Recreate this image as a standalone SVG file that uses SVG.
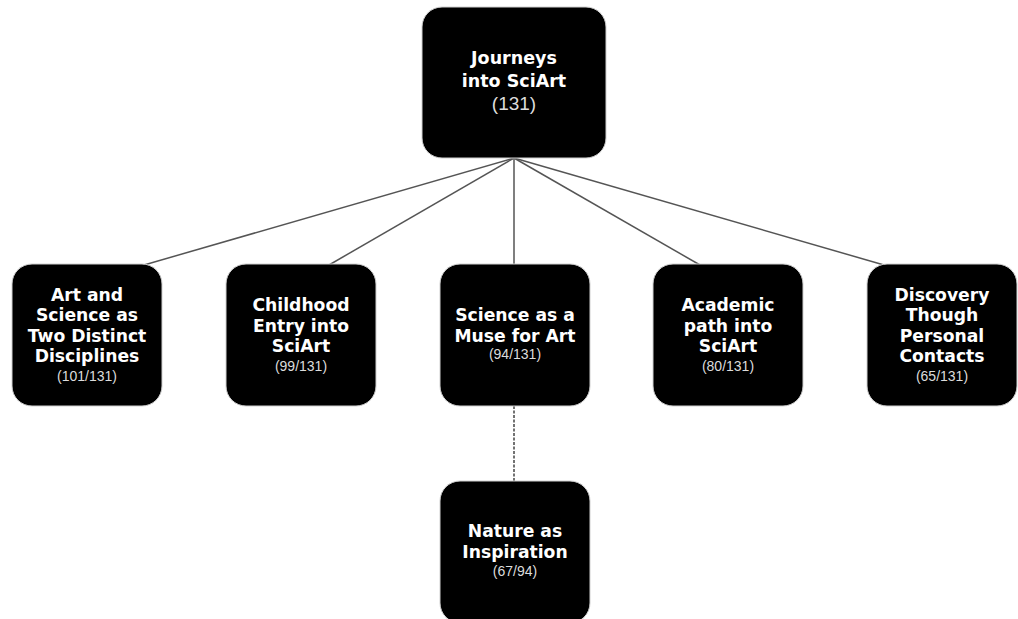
<svg xmlns="http://www.w3.org/2000/svg" width="1018" height="619" viewBox="0 0 1018 619">
<style>
.box{fill:#000;stroke:#d0d0d0;stroke-width:1}
.t{font-family:"DejaVu Sans","Liberation Sans",sans-serif;font-weight:700;fill:#fff;text-anchor:middle;font-size:17.2px}
.tt{font-size:17.5px}
.c{font-family:"Liberation Sans",Arial,sans-serif;font-weight:400;fill:#dcdcdc;text-anchor:middle;font-size:14px}
.ct{font-size:19px}
.e{stroke:#555;stroke-width:1.5;fill:none}
.d{stroke:#444;stroke-width:1.5;fill:none;stroke-dasharray:3,1.5}
</style>
<rect width="1018" height="619" fill="#fff"/>
<g id="connectors">
<line class="e" x1="514" y1="158" x2="144" y2="265"/>
<line class="e" x1="514" y1="158" x2="329" y2="265"/>
<line class="e" x1="514" y1="158" x2="514" y2="265"/>
<line class="e" x1="514" y1="158" x2="700" y2="265"/>
<line class="e" x1="514" y1="158" x2="884" y2="265"/>
<line class="d" x1="514" y1="406" x2="514" y2="481"/>
</g>
<g id="root">
<rect class="box" x="422" y="7" width="184" height="151" rx="20"/>
<text class="t tt" x="514" y="64">Journeys</text>
<text class="t tt" x="514" y="87">into SciArt</text>
<text class="c ct" x="514" y="110">(131)</text>
</g>
<g id="n1">
<rect class="box" x="12" y="264" width="150" height="142" rx="20"/>
<text class="t" x="87" y="301">Art and</text>
<text class="t" x="87" y="321">Science as</text>
<text class="t" x="87" y="342">Two Distinct</text>
<text class="t" x="87" y="362">Disciplines</text>
<text class="c" x="87" y="381">(101/131)</text>
</g>
<g id="n2">
<rect class="box" x="226" y="264" width="150" height="142" rx="20"/>
<text class="t" x="301" y="311">Childhood</text>
<text class="t" x="301" y="332">Entry into</text>
<text class="t" x="301" y="352">SciArt</text>
<text class="c" x="301" y="371">(99/131)</text>
</g>
<g id="n3">
<rect class="box" x="440" y="264" width="150" height="142" rx="20"/>
<text class="t" x="515" y="321">Science as a</text>
<text class="t" x="515" y="342">Muse for Art</text>
<text class="c" x="515" y="359">(94/131)</text>
</g>
<g id="n4">
<rect class="box" x="653" y="264" width="150" height="142" rx="20"/>
<text class="t" x="728" y="311">Academic</text>
<text class="t" x="728" y="332">path into</text>
<text class="t" x="728" y="352">SciArt</text>
<text class="c" x="728" y="371">(80/131)</text>
</g>
<g id="n5">
<rect class="box" x="867" y="264" width="150" height="142" rx="20"/>
<text class="t" x="942" y="301">Discovery</text>
<text class="t" x="942" y="321">Though</text>
<text class="t" x="942" y="342">Personal</text>
<text class="t" x="942" y="362">Contacts</text>
<text class="c" x="942" y="381">(65/131)</text>
</g>
<g id="n6">
<rect class="box" x="440" y="481" width="150" height="142" rx="20"/>
<text class="t" x="515" y="537">Nature as</text>
<text class="t" x="515" y="558">Inspiration</text>
<text class="c" x="515" y="576">(67/94)</text>
</g>
</svg>
